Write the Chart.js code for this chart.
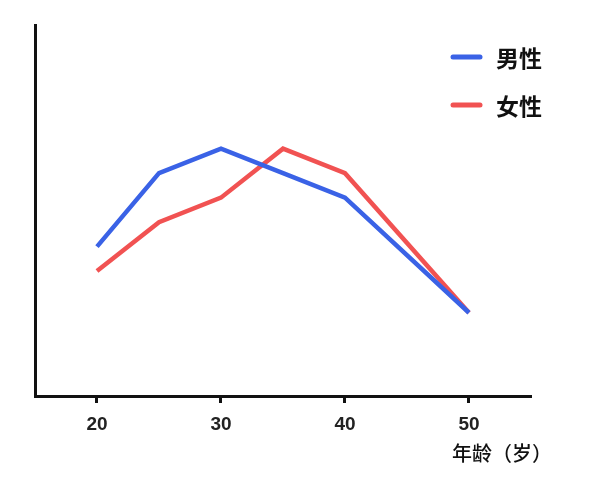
<!DOCTYPE html>
<html>
<head>
<meta charset="utf-8">
<script src="https://cdn.jsdelivr.net/npm/chart.js@4"></script>
<style>
  body { margin: 0; background: #fff; }
  #wrap { width: 600px; height: 477px; position: relative; }
</style>
</head>
<body>
<div id="wrap"><canvas id="ageChart"></canvas></div>
<script>
const ages = [20, 25, 30, 35, 40, 50];
const male = [6.1, 9.1, 10.1, 9.1, 8.1, 3.4];
const female = [5.1, 7.1, 8.1, 10.1, 9.1, 3.4];
const xTicks = [20, 30, 40, 50];
const seriesLabels = ["男性", "女性"];
const xTitle = "年龄（岁）";

const toPoints = (vals) => ages.map((a, i) => ({ x: a, y: vals[i] }));

const cjk = "'Noto Sans CJK SC', 'Noto Sans', sans-serif";

// legend, axis title and x tick marks drawn by hand
const extras = {
  id: "extras",
  afterDraw(chart) {
    const ctx = chart.ctx;
    const xs = chart.scales.x;
    const bottom = chart.chartArea.bottom;
    ctx.save();
    ctx.fillStyle = "#111";
    xTicks.forEach((v) => {
      const px = Math.round(xs.getPixelForValue(v));
      ctx.fillRect(px - 2, bottom, 3, 7);
    });

    chart.data.datasets.forEach((ds, i) => {
      const y = 57 + i * 48;
      ctx.strokeStyle = ds.borderColor;
      ctx.lineWidth = 5;
      ctx.lineCap = "round";
      ctx.beginPath();
      ctx.moveTo(453, y);
      ctx.lineTo(480, y);
      ctx.stroke();
      ctx.fillStyle = "#111";
      ctx.font = "bold 23px " + cjk;
      ctx.textBaseline = "middle";
      ctx.fillText(ds.label, 496, y + 1);
    });
    ctx.font = "500 20px " + cjk;
    ctx.fillStyle = "#111";
    ctx.textBaseline = "middle";
    ctx.textAlign = "left";
    ctx.fillText(xTitle, 452, 453);
    ctx.restore();
  },
};

new Chart(document.getElementById("ageChart"), {
  type: "line",
  data: {
    datasets: [
      {
        label: seriesLabels[0],
        data: toPoints(male),
        borderColor: "#3a62e6",
        borderWidth: 4.5,
        pointRadius: 0,
        tension: 0,
      },
      {
        label: seriesLabels[1],
        data: toPoints(female),
        borderColor: "#f15252",
        borderWidth: 4.5,
        pointRadius: 0,
        tension: 0,
      },
    ],
  },
  options: {
    responsive: true,
    maintainAspectRatio: false,
    animation: false,
    layout: { padding: { left: 35, top: 25, right: 69, bottom: 0 } },
    plugins: { legend: { display: false }, tooltip: { enabled: false } },
    scales: {
      x: {
        type: "linear",
        min: 15,
        max: 55,
        afterBuildTicks: (s) => { s.ticks = xTicks.map((v) => ({ value: v })); },
        afterFit: (s) => { s.height = 81; },
        grid: { display: false },
        border: { display: true, color: "#111", width: 3 },
        ticks: {
          color: "#222",
          padding: 9,
          font: { family: "Arial, 'Liberation Sans', sans-serif", size: 19, weight: "bold" },
        },
      },
      y: {
        min: 0,
        max: 15.15,
        afterFit: (s) => { s.width = 0; },
        grid: { display: false, drawTicks: false },
        border: { display: true, color: "#111", width: 3 },
        ticks: { display: false },
      },
    },
  },
  plugins: [extras],
});
</script>
</body>
</html>
